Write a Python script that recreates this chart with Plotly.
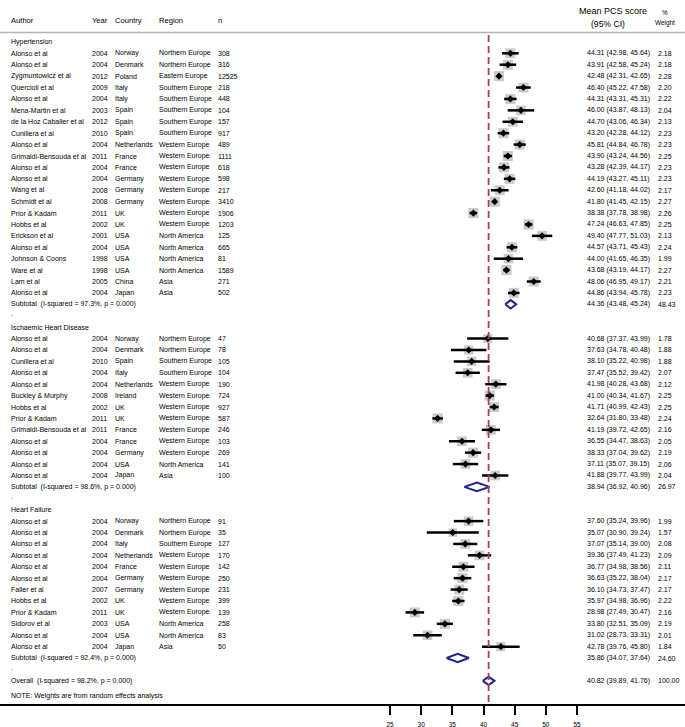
import plotly.graph_objects as go

# ---------------- data ----------------
ht_author = ["Alonso et al", "Alonso et al", "Zygmuntowicz et al", "Quercioli et al", "Alonso et al",
             "Mena-Martin et al", "de la Hoz Caballer et al", "Cunillera et al", "Alonso et al",
             "Grimaldi-Bensouda et al", "Alonso et al", "Alonso et al", "Wang et al", "Schmidt et al",
             "Prior & Kadam", "Hobbs et al", "Erickson et al", "Alonso et al", "Johnson & Coons",
             "Ware et al", "Lam et al", "Alonso et al"]
ht_year = [2004, 2004, 2012, 2009, 2004, 2003, 2012, 2010, 2004, 2011, 2004, 2004, 2008, 2008,
           2011, 2002, 2001, 2004, 1998, 1998, 2005, 2004]
ht_country = ["Norway", "Denmark", "Poland", "Italy", "Italy", "Spain", "Spain", "Spain", "Netherlands",
              "France", "France", "Germany", "Germany", "Germany", "UK", "UK", "USA", "USA", "USA",
              "USA", "China", "Japan"]
ht_region = ["Northern Europe", "Northern Europe", "Eastern Europe", "Southern Europe", "Southern Europe",
             "Southern Europe", "Southern Europe", "Southern Europe", "Western Europe", "Western Europe",
             "Western Europe", "Western Europe", "Western Europe", "Western Europe", "Western Europe",
             "Western Europe", "North America", "North America", "North America", "North America",
             "Asia", "Asia"]
ht_n = [308, 316, 12525, 218, 448, 104, 157, 917, 489, 1111, 618, 598, 217, 3410, 1906, 1203, 125, 665,
        81, 1589, 271, 502]
ht_est = [44.31, 43.91, 42.48, 46.40, 44.31, 46.00, 44.70, 43.20, 45.81, 43.90, 43.28, 44.19, 42.60,
          41.80, 38.38, 47.24, 49.40, 44.57, 44.00, 43.68, 48.06, 44.86]
ht_lo = [42.98, 42.58, 42.31, 45.22, 43.31, 43.87, 43.06, 42.28, 44.84, 43.24, 42.39, 43.27, 41.18,
         41.45, 37.78, 46.63, 47.77, 43.71, 41.65, 43.19, 46.95, 43.94]
ht_hi = [45.64, 45.24, 42.65, 47.58, 45.31, 48.13, 46.34, 44.12, 46.78, 44.56, 44.17, 45.11, 44.02,
         42.15, 38.98, 47.85, 51.03, 45.43, 46.35, 44.17, 49.17, 45.78]
ht_w = [2.18, 2.18, 2.28, 2.20, 2.22, 2.04, 2.13, 2.23, 2.23, 2.25, 2.23, 2.23, 2.17, 2.27, 2.26, 2.25,
        2.13, 2.24, 1.99, 2.27, 2.21, 2.23]

ihd_author = ["Alonso et al", "Alonso et al", "Cunillera et al", "Alonso et al", "Alonso et al",
              "Buckley & Murphy", "Hobbs et al", "Prior & Kadam", "Grimaldi-Bensouda et al",
              "Alonso et al", "Alonso et al", "Alonso et al", "Alonso et al"]
ihd_year = [2004, 2004, 2010, 2004, 2004, 2008, 2002, 2011, 2011, 2004, 2004, 2004, 2004]
ihd_country = ["Norway", "Denmark", "Spain", "Italy", "Netherlands", "Ireland", "UK", "UK", "France",
               "France", "Germany", "USA", "Japan"]
ihd_region = ["Northern Europe", "Northern Europe", "Southern Europe", "Southern Europe", "Western Europe",
              "Western Europe", "Western Europe", "Western Europe", "Western Europe", "Western Europe",
              "Western Europe", "North America", "Asia"]
ihd_n = [47, 78, 105, 104, 190, 724, 927, 587, 246, 103, 269, 141, 100]
ihd_est = [40.68, 37.63, 38.10, 37.47, 41.98, 41.00, 41.71, 32.64, 41.19, 36.55, 38.33, 37.11, 41.88]
ihd_lo = [37.37, 34.78, 35.22, 35.52, 40.28, 40.34, 40.99, 31.80, 39.72, 34.47, 37.04, 35.07, 39.77]
ihd_hi = [43.99, 40.48, 40.98, 39.42, 43.68, 41.67, 42.43, 33.48, 42.65, 38.63, 39.62, 39.15, 43.99]
ihd_w = [1.78, 1.88, 1.88, 2.07, 2.12, 2.25, 2.25, 2.24, 2.16, 2.05, 2.19, 2.06, 2.04]

hf_author = ["Alonso et al", "Alonso et al", "Alonso et al", "Alonso et al", "Alonso et al",
             "Alonso et al", "Faller et al", "Hobbs et al", "Prior & Kadam", "Sidorov et al",
             "Alonso et al", "Alonso et al"]
hf_year = [2004, 2004, 2004, 2004, 2004, 2004, 2007, 2002, 2011, 2003, 2004, 2004]
hf_country = ["Norway", "Denmark", "Italy", "Netherlands", "France", "Germany", "Germany", "UK", "UK",
              "USA", "USA", "Japan"]
hf_region = ["Northern Europe", "Northern Europe", "Southern Europe", "Western Europe", "Western Europe",
             "Western Europe", "Western Europe", "Western Europe", "Western Europe", "North America",
             "North America", "Asia"]
hf_n = [91, 35, 127, 170, 142, 250, 231, 399, 139, 258, 83, 50]
hf_est = [37.60, 35.07, 37.07, 39.36, 36.77, 36.63, 36.10, 35.97, 28.98, 33.80, 31.02, 42.78]
hf_lo = [35.24, 30.90, 35.14, 37.49, 34.98, 35.22, 34.73, 34.98, 27.49, 32.51, 28.73, 39.76]
hf_hi = [39.96, 39.24, 39.00, 41.23, 38.56, 38.04, 37.47, 36.96, 30.47, 35.09, 33.31, 45.80]
hf_w = [1.99, 1.57, 2.08, 2.09, 2.11, 2.17, 2.17, 2.22, 2.16, 2.19, 2.01, 1.84]

group_names = ["Hypertension", "Ischaemic Heart Disease", "Heart Failure"]
sub_labels = ["Subtotal  (I-squared = 97.3%, p = 0.000)",
              "Subtotal  (I-squared = 98.6%, p = 0.000)",
              "Subtotal  (I-squared = 92.4%, p = 0.000)"]
sub_est = [44.36, 38.94, 35.86]
sub_lo = [43.48, 36.92, 34.07]
sub_hi = [45.24, 40.96, 37.64]
sub_w = [48.43, 26.97, 24.60]

overall_label = "Overall  (I-squared = 98.2%, p = 0.000)"
overall_est, overall_lo, overall_hi, overall_w = 40.82, 39.89, 41.76, 100.00
note_text = "NOTE: Weights are from random effects analysis"

x_ticks = [25, 30, 35, 40, 45, 50, 55]
headers = ["Author", "Year", "Country", "Region", "n"]

# ---------------- layout constants ----------------
W, H = 685, 727
PLOT_H = 704
FONT = "Liberation Sans, Arial, sans-serif"
ROW_FS = 7.0
col_px = [10, 90.5, 114, 158, 217]
eff_px, wt_px = 586, 657
BLACK = "#000000"
NAVY = "#22228c"
MAROON = "#a8404e"

groups = [
    (ht_author, ht_year, ht_country, ht_region, ht_n, ht_est, ht_lo, ht_hi, ht_w),
    (ihd_author, ihd_year, ihd_country, ihd_region, ihd_n, ihd_est, ihd_lo, ihd_hi, ihd_w),
    (hf_author, hf_year, hf_country, hf_region, hf_n, hf_est, hf_lo, hf_hi, hf_w),
]

annotations = []


def txt(xpx, y, s, size=ROW_FS, anchor="left"):
    annotations.append(dict(x=xpx / W, xref="paper", y=y, yref="y", text=s, showarrow=False,
                            xanchor=anchor, yanchor="middle", borderpad=0,
                            font=dict(family=FONT, size=size, color=BLACK)))


fig = go.Figure()

row = 0
study_y, study_est, study_lo, study_hi, study_w = [], [], [], [], []
diamonds = []
for g, (au, yr, co, rg, n, est, lo, hi, w) in enumerate(groups):
    txt(col_px[0], row, group_names[g])
    row += 1
    for k in range(len(au)):
        txt(col_px[0], row, au[k])
        txt(col_px[1], row, str(yr[k]))
        txt(col_px[2], row, co[k])
        txt(col_px[3], row, rg[k])
        txt(col_px[4], row, str(n[k]))
        txt(eff_px, row, f"{est[k]:.2f} ({lo[k]:.2f}, {hi[k]:.2f})")
        txt(wt_px, row, f"{w[k]:.2f}")
        study_y.append(row); study_est.append(est[k]); study_lo.append(lo[k])
        study_hi.append(hi[k]); study_w.append(w[k])
        row += 1
    txt(col_px[0], row, sub_labels[g])
    txt(eff_px, row, f"{sub_est[g]:.2f} ({sub_lo[g]:.2f}, {sub_hi[g]:.2f})")
    txt(wt_px, row, f"{sub_w[g]:.2f}")
    diamonds.append((row, sub_est[g], sub_lo[g], sub_hi[g]))
    row += 1
    txt(col_px[0], row - 0.2, ".")
    row += 1

txt(col_px[0], row, overall_label)
txt(eff_px, row, f"{overall_est:.2f} ({overall_lo:.2f}, {overall_hi:.2f})")
txt(wt_px, row, f"{overall_w:.2f}")
diamonds.append((row, overall_est, overall_lo, overall_hi))
row += 1
txt(col_px[0], row + 0.3, note_text)

# header
for i, h in enumerate(headers):
    annotations.append(dict(x=col_px[i] / W, xref="paper", y=1 - 20 / PLOT_H, yref="paper", text=h,
                            showarrow=False, xanchor="left", yanchor="middle", borderpad=0,
                            font=dict(family=FONT, size=7.6, color=BLACK)))
for s, xp, yp, sz in [("Mean PCS score", 613, 11, 9), ("(95% CI)", 608, 24.5, 8.6),
                      ("%", 665, 13, 6.4), ("Weight", 665, 23, 6.4)]:
    annotations.append(dict(x=xp / W, xref="paper", y=1 - yp / PLOT_H, yref="paper", text=s,
                            showarrow=False, xanchor="center", yanchor="middle", borderpad=0,
                            font=dict(family=FONT, size=sz, color=BLACK)))

# weight boxes
fig.add_trace(go.Scatter(
    x=study_est, y=study_y, mode="markers", hoverinfo="skip",
    marker=dict(symbol="square", size=[10 * (w / 2.2) ** 0.5 for w in study_w],
                color="#b5b5b5", line=dict(width=0)),
    showlegend=False))
# CI lines and point estimates
fig.add_trace(go.Scatter(
    x=study_est, y=study_y, mode="markers", hoverinfo="skip",
    marker=dict(symbol="diamond", size=5.5, color=BLACK, line=dict(width=0)),
    error_x=dict(type="data", symmetric=False,
                 array=[h - e for h, e in zip(study_hi, study_est)],
                 arrayminus=[e - l for e, l in zip(study_est, study_lo)],
                 color=BLACK, thickness=2.5, width=0),
    showlegend=False))
# pooled diamonds
hh = 0.37
for (r, e, l, h) in diamonds:
    fig.add_trace(go.Scatter(
        x=[l, e, h, e, l], y=[r, r - hh, r, r + hh, r], mode="lines", hoverinfo="skip",
        line=dict(color=NAVY, width=2), showlegend=False))

y_top = -41.9 / 11.41
y_bot = (PLOT_H - 41.9) / 11.41
x_min = 40 - 483.5 / 6.233
x_max = 40 + (W - 483.5) / 6.233

shapes = [
    dict(type="line", xref="paper", yref="paper", x0=0, x1=1, y0=1 - 32.5 / PLOT_H, y1=1 - 32.5 / PLOT_H,
         line=dict(color="#b4b4b4", width=1.5)),
    dict(type="line", xref="x", yref="y", x0=overall_est, x1=overall_est, y0=(35 - 41.9) / 11.41, y1=y_bot,
         line=dict(color=MAROON, width=1.8, dash="7px,4px")),
]

fig.update_layout(
    width=W, height=H, margin=dict(l=0, r=0, t=0, b=H - PLOT_H, autoexpand=False),
    paper_bgcolor="white", plot_bgcolor="white",
    xaxis=dict(range=[x_min, x_max], showgrid=False, zeroline=False, showline=True,
               linecolor=BLACK, linewidth=2, ticks="outside", tickvals=x_ticks,
               ticktext=[str(t) for t in x_ticks], ticklen=9, tickwidth=1.5, tickcolor=BLACK,
               tickfont=dict(family=FONT, size=6.5, color=BLACK), ticklabelstandoff=4),
    yaxis=dict(range=[y_bot, y_top], visible=False),
    annotations=annotations, shapes=shapes,
)

fig.write_html("out.html", config={"displayModeBar": False},
               post_script="document.body.style.margin='0';document.body.style.overflow='hidden';")
